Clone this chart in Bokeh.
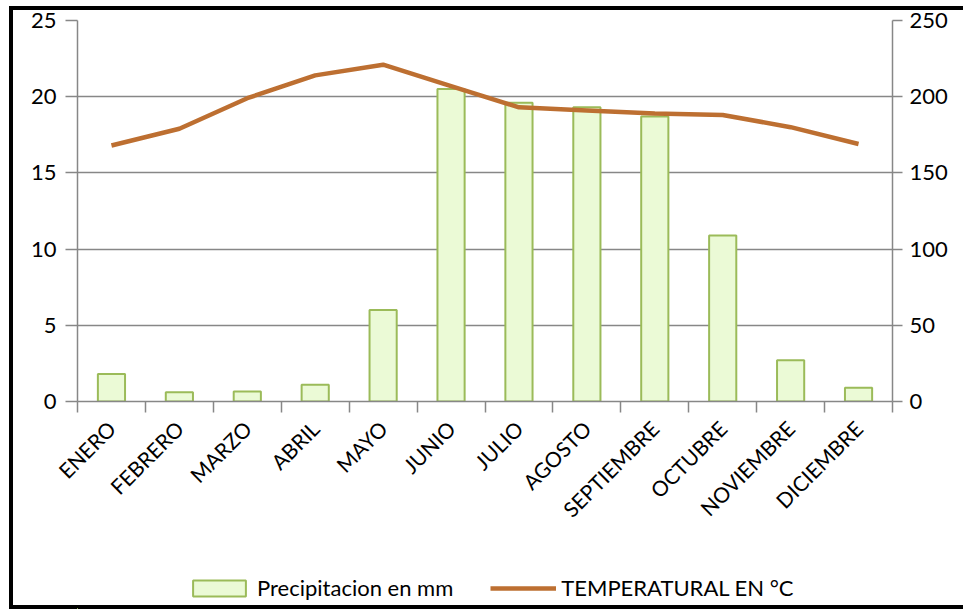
import math
from bokeh.plotting import figure
from bokeh.layouts import column
from bokeh.models import Range1d, LinearAxis, FixedTicker, Legend, LegendItem
from bokeh.embed import file_html
from bokeh.resources import INLINE

months = ["ENERO", "FEBRERO", "MARZO", "ABRIL", "MAYO", "JUNIO", "JULIO",
          "AGOSTO", "SEPTIEMBRE", "OCTUBRE", "NOVIEMBRE", "DICIEMBRE"]
precip_mm = [18, 6, 6.5, 11, 60, 205, 196, 193, 187, 109, 27, 9]
temp_c = [16.8, 17.9, 19.9, 21.4, 22.1, 20.7, 19.3, 19.1, 18.9, 18.8, 18.0, 16.9]
left_ticks = [0, 5, 10, 15, 20, 25]
right_ticks = [0, 50, 100, 150, 200, 250]
series_names = ["Precipitacion en mm", "TEMPERATURAL EN °C"]

xs = [i + 0.5 for i in range(len(months))]
FONT = "Lato"
GRAY = "#878787"
BAR_FILL = "#ebfad6"
BAR_LINE = "#9bbb59"
LINE_COLOR = "#bd6f31"

p = figure(width=963, height=569, output_backend="svg", toolbar_location=None,
           x_range=Range1d(0, 12), y_range=Range1d(0, 25),
           min_border_left=77, min_border_right=71, min_border_top=20,
           min_border_bottom=168)
p.extra_y_ranges = {"prec": Range1d(0, 250)}
p.outline_line_color = None
p.background_fill_color = "white"
p.border_fill_color = None

bars = p.vbar(x=xs, top=precip_mm, width=0.4, bottom=0, y_range_name="prec",
              fill_color=BAR_FILL, line_color=BAR_LINE, line_width=2)
line = p.line(xs, temp_c, line_color=LINE_COLOR, line_width=4.5)

# grid
p.xgrid.visible = False
p.ygrid.ticker = FixedTicker(ticks=left_ticks)
p.ygrid.grid_line_color = GRAY
p.ygrid.grid_line_width = 1.5

# left axis
ya = p.yaxis[0]
ya.ticker = FixedTicker(ticks=left_ticks)
ya.axis_line_color = GRAY
ya.axis_line_width = 1.5
ya.major_tick_line_color = GRAY
ya.major_tick_line_width = 1.5
ya.major_tick_out = 12
ya.major_tick_in = 0
ya.minor_tick_line_color = None
ya.major_label_text_font = FONT
ya.major_label_text_font_size = "22px"
ya.major_label_text_color = "black"
ya.major_label_standoff = 9

# right axis
ra = LinearAxis(y_range_name="prec", ticker=FixedTicker(ticks=right_ticks))
ra.axis_line_color = GRAY
ra.axis_line_width = 1.5
ra.major_tick_line_color = GRAY
ra.major_tick_line_width = 1.5
ra.major_tick_out = 10
ra.major_tick_in = 0
ra.minor_tick_line_color = None
ra.major_label_text_font = FONT
ra.major_label_text_font_size = "22px"
ra.major_label_text_color = "black"
ra.major_label_standoff = 7
p.add_layout(ra, "right")

# bottom axis
xa = p.xaxis[0]
xa.ticker = FixedTicker(ticks=xs, minor_ticks=list(range(13)))
xa.major_label_overrides = {x: m for x, m in zip(xs, months)}
xa.major_label_orientation = math.pi / 4
xa.axis_line_color = GRAY
xa.axis_line_width = 1.5
xa.major_tick_line_color = None
xa.major_tick_out = 0
xa.major_tick_in = 0
xa.minor_tick_line_color = GRAY
xa.minor_tick_line_width = 1.5
xa.minor_tick_out = 11
xa.minor_tick_in = 0
xa.major_label_text_font = FONT
xa.major_label_text_font_size = "21px"
xa.major_label_text_color = "black"
xa.major_label_standoff = 12

# legend strip below the chart (its own small figure; its series copies lie
# far outside the strip's visible range, so only the legend keys show)
lf = figure(width=963, height=40, output_backend="svg", toolbar_location=None,
            x_axis_type=None, y_axis_type=None,
            x_range=Range1d(5000, 5012), y_range=Range1d(5000, 5001),
            min_border_left=0, min_border_right=0, min_border_top=0,
            min_border_bottom=0)
lf.outline_line_color = None
lf.background_fill_color = None
lf.border_fill_color = None
lf.xgrid.visible = False
lf.ygrid.visible = False
lbar = lf.vbar(x=xs, top=precip_mm, width=0.4, bottom=0, fill_color=BAR_FILL,
               line_color=BAR_LINE, line_width=2)
lline = lf.line(xs, temp_c, line_color=LINE_COLOR, line_width=4.5)
legend = Legend(items=[LegendItem(label=series_names[0], renderers=[lbar]),
                       LegendItem(label=series_names[1], renderers=[lline])],
                orientation="horizontal", location=(109, 8),
                glyph_width=66, glyph_height=20, label_standoff=5, spacing=37,
                padding=0, margin=0, border_line_color=None,
                background_fill_alpha=0, label_text_font=FONT,
                label_text_font_size="22px", label_text_color="black")
lf.add_layout(legend)

layout = column(p, lf, spacing=0)
# black frame round the chart (left, top and bottom edges), drawn as inset shadows
layout.styles = {"box-shadow": ("inset 9px 0 0 white, inset 0 6px 0 white, "
                                "inset 13px 0 0 black, inset 0 10px 0 black, "
                                "inset 0 -4px 0 black")}

open("out.html", "w").write(file_html(layout, INLINE))
